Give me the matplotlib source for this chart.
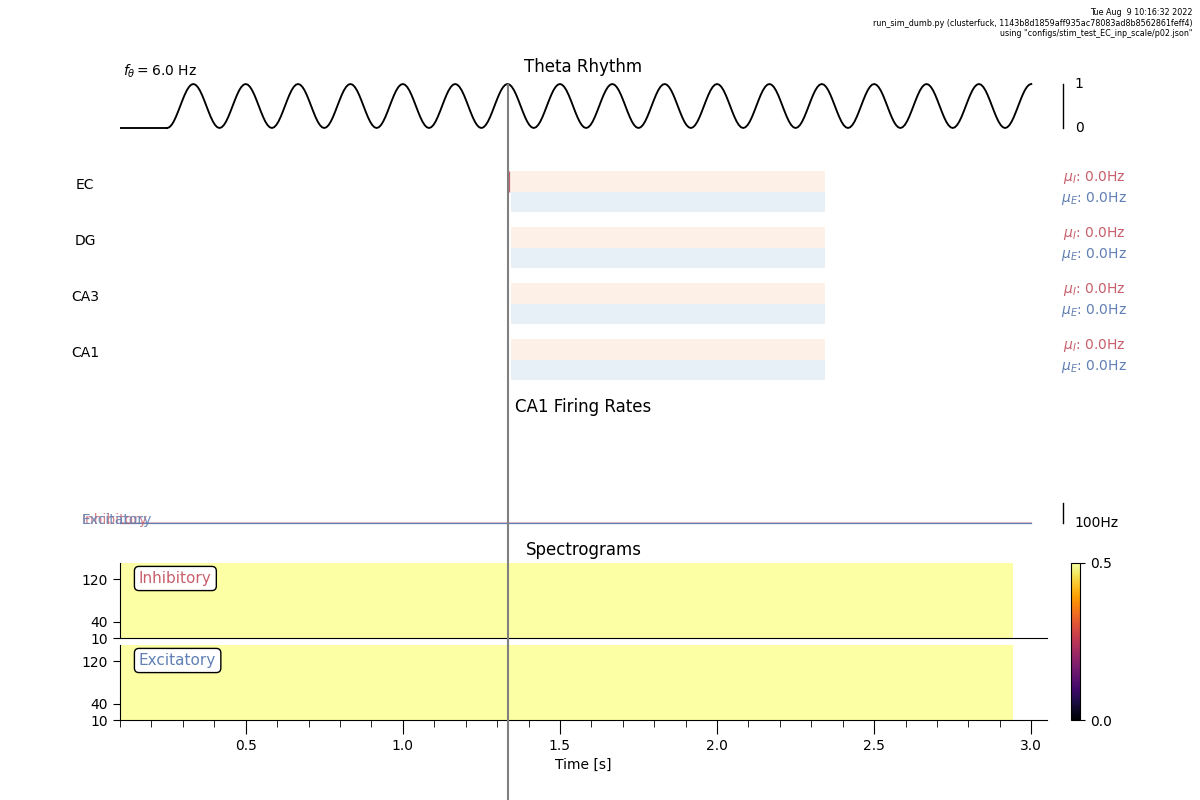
import matplotlib
matplotlib.use("Agg")
import matplotlib.pyplot as plt
from matplotlib.ticker import MultipleLocator

W, H = 1200, 800
LEFT, RIGHT = 120.0, 1047.0

# ---- data ----
theta_start = [0.10, 0.25]
theta_flat = [0.0, 0.0]
theta_step = 1 / 144
theta_values = [
    0.000, 0.017, 0.067, 0.146, 0.250, 0.371, 0.500, 0.629, 0.750, 0.854, 0.933, 0.983,
    1.000, 0.983, 0.933, 0.854, 0.750, 0.629, 0.500, 0.371, 0.250, 0.146, 0.067, 0.017,
    0.000, 0.017, 0.067, 0.146, 0.250, 0.371, 0.500, 0.629, 0.750, 0.854, 0.933, 0.983,
    1.000, 0.983, 0.933, 0.854, 0.750, 0.629, 0.500, 0.371, 0.250, 0.146, 0.067, 0.017,
    0.000, 0.017, 0.067, 0.146, 0.250, 0.371, 0.500, 0.629, 0.750, 0.854, 0.933, 0.983,
    1.000, 0.983, 0.933, 0.854, 0.750, 0.629, 0.500, 0.371, 0.250, 0.146, 0.067, 0.017,
    0.000, 0.017, 0.067, 0.146, 0.250, 0.371, 0.500, 0.629, 0.750, 0.854, 0.933, 0.983,
    1.000, 0.983, 0.933, 0.854, 0.750, 0.629, 0.500, 0.371, 0.250, 0.146, 0.067, 0.017,
    0.000, 0.017, 0.067, 0.146, 0.250, 0.371, 0.500, 0.629, 0.750, 0.854, 0.933, 0.983,
    1.000, 0.983, 0.933, 0.854, 0.750, 0.629, 0.500, 0.371, 0.250, 0.146, 0.067, 0.017,
    0.000, 0.017, 0.067, 0.146, 0.250, 0.371, 0.500, 0.629, 0.750, 0.854, 0.933, 0.983,
    1.000, 0.983, 0.933, 0.854, 0.750, 0.629, 0.500, 0.371, 0.250, 0.146, 0.067, 0.017,
    0.000, 0.017, 0.067, 0.146, 0.250, 0.371, 0.500, 0.629, 0.750, 0.854, 0.933, 0.983,
    1.000, 0.983, 0.933, 0.854, 0.750, 0.629, 0.500, 0.371, 0.250, 0.146, 0.067, 0.017,
    0.000, 0.017, 0.067, 0.146, 0.250, 0.371, 0.500, 0.629, 0.750, 0.854, 0.933, 0.983,
    1.000, 0.983, 0.933, 0.854, 0.750, 0.629, 0.500, 0.371, 0.250, 0.146, 0.067, 0.017,
    0.000, 0.017, 0.067, 0.146, 0.250, 0.371, 0.500, 0.629, 0.750, 0.854, 0.933, 0.983,
    1.000, 0.983, 0.933, 0.854, 0.750, 0.629, 0.500, 0.371, 0.250, 0.146, 0.067, 0.017,
    0.000, 0.017, 0.067, 0.146, 0.250, 0.371, 0.500, 0.629, 0.750, 0.854, 0.933, 0.983,
    1.000, 0.983, 0.933, 0.854, 0.750, 0.629, 0.500, 0.371, 0.250, 0.146, 0.067, 0.017,
    0.000, 0.017, 0.067, 0.146, 0.250, 0.371, 0.500, 0.629, 0.750, 0.854, 0.933, 0.983,
    1.000, 0.983, 0.933, 0.854, 0.750, 0.629, 0.500, 0.371, 0.250, 0.146, 0.067, 0.017,
    0.000, 0.017, 0.067, 0.146, 0.250, 0.371, 0.500, 0.629, 0.750, 0.854, 0.933, 0.983,
    1.000, 0.983, 0.933, 0.854, 0.750, 0.629, 0.500, 0.371, 0.250, 0.146, 0.067, 0.017,
    0.000, 0.017, 0.067, 0.146, 0.250, 0.371, 0.500, 0.629, 0.750, 0.854, 0.933, 0.983,
    1.000, 0.983, 0.933, 0.854, 0.750, 0.629, 0.500, 0.371, 0.250, 0.146, 0.067, 0.017,
    0.000, 0.017, 0.067, 0.146, 0.250, 0.371, 0.500, 0.629, 0.750, 0.854, 0.933, 0.983,
    1.000, 0.983, 0.933, 0.854, 0.750, 0.629, 0.500, 0.371, 0.250, 0.146, 0.067, 0.017,
    0.000, 0.017, 0.067, 0.146, 0.250, 0.371, 0.500, 0.629, 0.750, 0.854, 0.933, 0.983,
    1.000, 0.983, 0.933, 0.854, 0.750, 0.629, 0.500, 0.371, 0.250, 0.146, 0.067, 0.017,
    0.000, 0.017, 0.067, 0.146, 0.250, 0.371, 0.500, 0.629, 0.750, 0.854, 0.933, 0.983,
    1.000, 0.983, 0.933, 0.854, 0.750, 0.629, 0.500, 0.371, 0.250, 0.146, 0.067, 0.017,
    0.000, 0.017, 0.067, 0.146, 0.250, 0.371, 0.500, 0.629, 0.750, 0.854, 0.933, 0.983,
    1.000,
]
layers = ["EC", "DG", "CA3", "CA1"]
mean_rate_inh = [0.0, 0.0, 0.0, 0.0]
mean_rate_exc = [0.0, 0.0, 0.0, 0.0]
stim_window = [1.344, 2.344]
stim_time = 1.334
ec_inh_spikes = [1.338]
rate_times = [0.10, 3.00]
rate_inh = [0.0, 0.0]
rate_exc = [0.0, 0.0]
spec_times = [0.10, 2.942]
spec_freqs = [10, 150]
spec_inh = [[0.5]]
spec_exc = [[0.5]]
freq_ticks = [10, 40, 120]
header = ('Tue Aug  9 10:16:32 2022\n'
          'run_sim_dumb.py (clusterfuck, 1143b8d1859aff935ac78083ad8b8562861feff4)\n'
          'using "configs/stim_test_EC_inp_scale/p02.json"')

INH = "#c8606c"
EXC = "#6080b4"
BAND_I = "#fdf0e6"
BAND_E = "#e8f0f7"
XLIM = (0.1, 3.05)
BAR_X = 3.1
LABEL_X = 3.1385
TITLE_X = 0.5

fig = plt.figure(figsize=(W / 100, H / 100), dpi=100)


def add_ax(top, bottom, left=LEFT, right=RIGHT):
    ax = fig.add_axes([left / W, 1 - bottom / H, (right - left) / W, (bottom - top) / H])
    ax.set_xlim(*XLIM)
    for s in ("top", "right"):
        ax.spines[s].set_visible(False)
    return ax


def hide(ax):
    ax.axis("off")


# theta
ax_theta = add_ax(80, 132)
hide(ax_theta)
ax_theta.set_ylim(-4 / 44, 48 / 44)
ax_theta.plot(theta_start, theta_flat, color="k", lw=1.35)
ax_theta.plot([theta_start[1] + i * theta_step for i in range(len(theta_values))],
              theta_values, color="k", lw=1.35)
ax_theta.set_title("Theta Rhythm", fontsize=12, pad=6, visible=True, x=TITLE_X)
ax_theta.plot([BAR_X, BAR_X], [0, 1], color="k", lw=1, clip_on=False)
ax_theta.text(LABEL_X, 1, "1", va="center", fontsize=10)
ax_theta.text(LABEL_X, 0, "0", va="center", fontsize=10)
fig.text(123 / W, 1 - 71 / H, r"$f_\theta = 6.0$ Hz", fontsize=10, va="center")

# layers
for i, name in enumerate(layers):
    top = 171.0 + 56 * i
    ax = add_ax(top, top + 41.3)
    hide(ax)
    ax.set_ylim(0, 2)
    ax.axvspan(*stim_window, ymin=0.5, ymax=1.0, color=BAND_I, lw=0)
    ax.axvspan(*stim_window, ymin=0, ymax=0.49, color=BAND_E, lw=0)
    if name == "EC":
        ax.vlines(ec_inh_spikes, 1, 2, color=INH, lw=1)
    fig.text(85 / W, 1 - (top + 14.3) / H, name, ha="center", va="center", fontsize=10)
    fig.text(1094 / W, 1 - (top + 6.7) / H, rf"$\mu_I$: {mean_rate_inh[i]:.1f}Hz",
             ha="center", va="center", fontsize=10, color=INH)
    fig.text(1094 / W, 1 - (top + 27.7) / H, rf"$\mu_E$: {mean_rate_exc[i]:.1f}Hz",
             ha="center", va="center", fontsize=10, color=EXC)

# firing rates
ax_rate = add_ax(420, 528)
hide(ax_rate)
ax_rate.set_ylim(-25, 515)
ax_rate.set_title("CA1 Firing Rates", fontsize=12, pad=6, visible=True, x=TITLE_X)
ax_rate.plot(rate_times, rate_inh, color=INH, lw=1.5, alpha=0.4)
ax_rate.plot(rate_times, rate_exc, color=EXC, lw=0.9)
ax_rate.plot([BAR_X, BAR_X], [0, 100], color="k", lw=1, clip_on=False)
ax_rate.text(LABEL_X, -1, "100Hz", va="center", fontsize=10)
fig.text(82 / W, 1 - 520 / H, "Inhibitory", color=INH, va="center", fontsize=10, alpha=0.8)
fig.text(82 / W, 1 - 520 / H, "Excitatory", color=EXC, va="center", fontsize=10, alpha=0.9)

# spectrograms
mesh = None
for top, data, label, col in ((563, spec_inh, "Inhibitory", INH), (645, spec_exc, "Excitatory", EXC)):
    ax = add_ax(top, top + 75)
    mesh = ax.pcolormesh(spec_times, spec_freqs, data, cmap="inferno", vmin=0, vmax=0.5,
                         rasterized=True)
    ax.set_xlim(*XLIM)
    ax.set_ylim(10, 150)
    ax.set_yticks(freq_ticks)
    ax.tick_params(axis="y", length=5, labelsize=10)
    fig.text(139 / W, 1 - (top + 15.5) / H, label, color=col, fontsize=11, va="center",
             bbox=dict(boxstyle="round,pad=0.3", fc="white", ec="k", lw=1))
    if top == 563:
        ax.set_title("Spectrograms", fontsize=12, pad=6, x=TITLE_X)
        ax.set_xticks([])
    else:
        ax.xaxis.set_major_locator(MultipleLocator(0.5))
        ax.xaxis.set_minor_locator(MultipleLocator(0.1))
        ax.tick_params(axis="x", which="major", length=10, labelsize=10)
        ax.tick_params(axis="x", which="minor", length=5)
        ax.set_xlabel("Time [s]", fontsize=10, x=TITLE_X)

# colorbar
cax = fig.add_axes([1071 / W, 1 - 720 / H, 9 / W, 157 / H])
cb = fig.colorbar(mesh, cax=cax, ticks=[0.0, 0.5])
cb.ax.tick_params(labelsize=10)

# stimulus line across everything
ax_line = add_ax(84, 800)
hide(ax_line)
ax_line.patch.set_alpha(0)
ax_line.axvline(stim_time, color="gray", lw=1.5, zorder=10)

fig.text(1193 / W, 1 - 8 / H, header, ha="right", va="top", fontsize=5.75, linespacing=1.25)

fig.savefig("out.png", dpi=100)
